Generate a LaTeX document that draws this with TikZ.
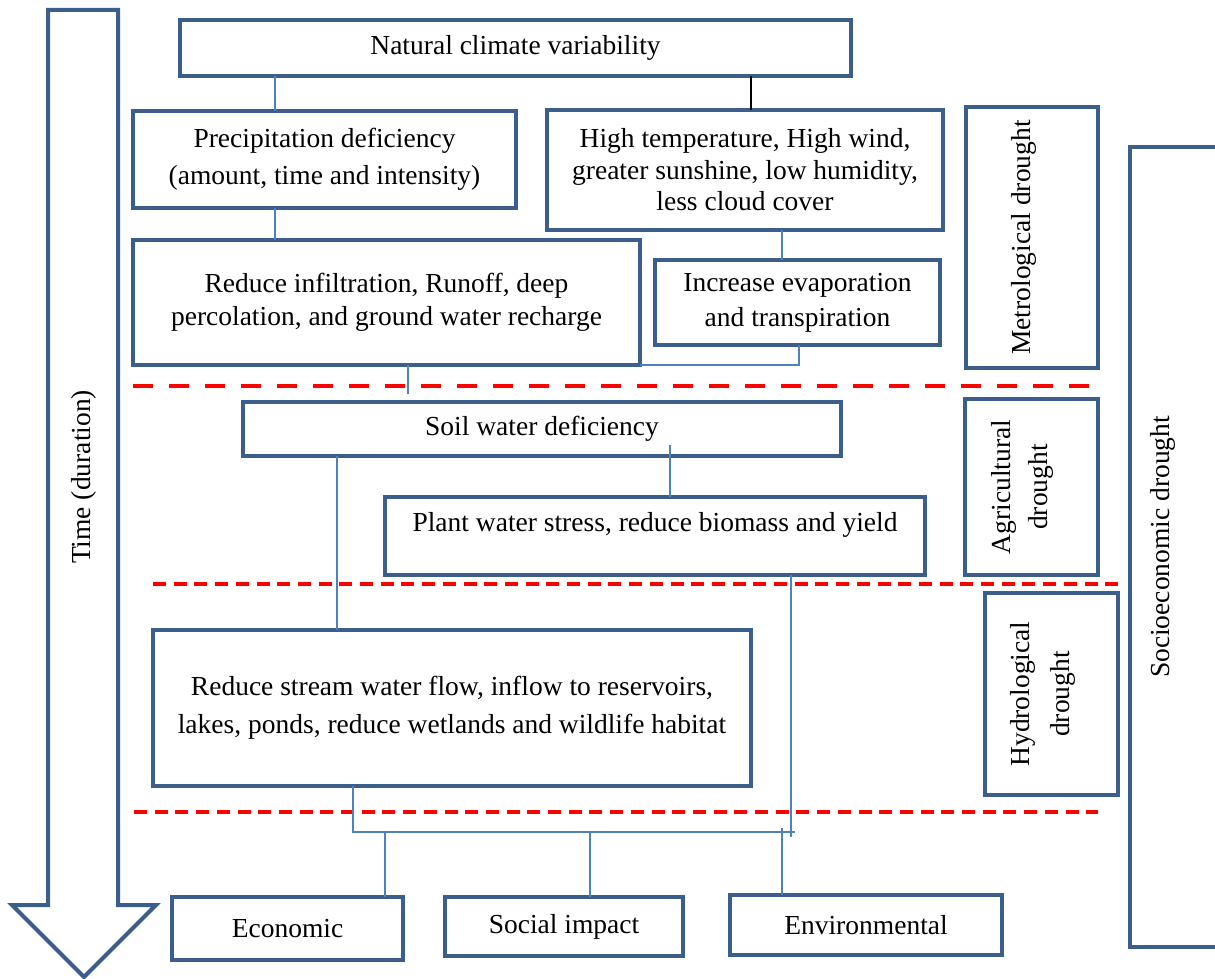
\documentclass[tikz,border=0pt]{standalone}
\usepackage{fontspec}
\setmainfont{Liberation Serif}
\definecolor{bdr}{RGB}{59,94,140}
\definecolor{cn}{RGB}{79,129,189}
\definecolor{rd}{RGB}{255,0,0}
\newcommand{\myfs}[1]{\fontsize{27.5}{#1}\selectfont}
\begin{document}
\begin{tikzpicture}[x=1pt,y=-1pt,
  box/.style={draw=bdr, line width=4pt, inner sep=0pt, outer sep=0pt, align=center, font=\myfs{35}},
  lbl/.style={inner sep=0pt, outer sep=0pt, align=center, font=\myfs{38}},
  conn/.style={draw=cn, line width=1.8pt},
  dashA/.style={draw=rd, line width=4.5pt, dash pattern=on 20pt off 16pt},
  dashB/.style={draw=rd, line width=4.5pt, dash pattern=on 13pt off 7.7pt}]
\useasboundingbox (0,0) rectangle (1215,979);

% time arrow
\draw[bdr, line width=4pt, line join=miter] (48,10) -- (118,10) -- (118,905) -- (156,905) -- (84,977) -- (12,905) -- (48,905) -- cycle;
\node[lbl, rotate=90] (time) at (84,477) {Time (duration)};

% main boxes
\node[box, minimum width=671pt, minimum height=56pt] (nat) at (515.5,48) {Natural climate variability};
\node[box, minimum width=383pt, minimum height=97pt, font=\myfs{37}] (pre) at (324.5,159.5) {Precipitation deficiency\\(amount, time and intensity)};
\node[box, minimum width=396pt, minimum height=120pt, font=\myfs{31.5}] (hi) at (745,170) {High temperature, High wind,\\greater sunshine, low humidity,\\less cloud cover};
\node[box, minimum width=507pt, minimum height=125pt, font=\myfs{33}] (inf) at (386.5,302.5) {Reduce infiltration, Runoff, deep\\percolation, and ground water recharge};
\node[box, minimum width=285pt, minimum height=85pt, font=\myfs{35}] (eva) at (797.5,302.5) {Increase evaporation\\and transpiration};
\node[box, minimum width=598pt, minimum height=54pt] (soil) at (542,429) {Soil water deficiency};
\node[box, minimum width=540pt, minimum height=78pt, text height=19pt, text depth=28pt] (plant) at (655,536) {Plant water stress, reduce biomass and yield};
\node[box, minimum width=598pt, minimum height=156pt, font=\myfs{38}] (str) at (452,708) {Reduce stream water flow, inflow to reservoirs,\\lakes, ponds, reduce wetlands and wildlife habitat};
\node[box, minimum width=231pt, minimum height=63pt] (eco) at (287.5,928.5) {Economic};
\node[box, minimum width=238pt, minimum height=59pt] (soc) at (564,926.5) {Social impact};
\node[box, minimum width=272pt, minimum height=60pt] (env) at (866,925) {Environmental};

% drought type boxes
\node[box, minimum width=132pt, minimum height=261pt] (metb) at (1032,237.5) {};
\node[lbl, rotate=90] (mett) at (1023.5,237.5) {Metrological drought};
\node[box, minimum width=133pt, minimum height=176pt] (agrb) at (1031.5,487) {};
\node[lbl, rotate=90, font=\myfs{37}] (agrt) at (1022,487) {Agricultural\\drought};
\node[box, minimum width=133pt, minimum height=202pt] (hydb) at (1051.5,694) {};
\node[lbl, rotate=90, font=\myfs{40}] (hydt) at (1042.5,694) {Hydrological\\drought};
\node[box, minimum width=90pt, minimum height=800pt] (sob) at (1175,547) {};
\node[lbl, rotate=90] (sot) at (1163,547) {Socioeconomic drought};

% dashed separators
\draw[dashA] (133,386) -- (1097,386);
\draw[dashB] (153,584) -- (1118,584);
\draw[dashB] (134,812) -- (1098,812);

% helper coordinates
\coordinate (x275) at (275,0);
\coordinate (x751) at (751,0);
\coordinate (x782) at (782,0);
\coordinate (j1) at (799,365);
\coordinate (e1) at (408,394);
\coordinate (s1) at (670,445);
\coordinate (x337) at (337,0);
\coordinate (p1) at (791,837);
\coordinate (b1) at (353,832);
\coordinate (b2) at (795,832);
\coordinate (k1) at (385,832);
\coordinate (k2) at (590,832);
\coordinate (k3) at (782,828);

% connectors
\draw[conn] (nat.south -| x275) -- (pre.north -| x275);
\draw[black, line width=1.8pt] (nat.south -| x751) -- (hi.north -| x751);
\draw[conn] (pre.south -| x275) -- (inf.north -| x275);
\draw[conn] (hi.south -| x782) -- (eva.north -| x782);
\draw[conn] (eva.south -| j1) -- (j1) -- (inf.south east);
\draw[conn] (inf.south -| e1) -- (e1);
\draw[conn] (s1) -- (plant.north -| s1);
\draw[conn] (soil.south -| x337) -- (str.north -| x337);
\draw[conn] (plant.south -| p1) -- (p1);
\draw[conn] (str.south -| b1) -- (b1) -- (b2);
\draw[conn] (k1) -- (eco.north -| k1);
\draw[conn] (k2) -- (soc.north -| k2);
\draw[conn] (k3) -- (env.north -| k3);
\end{tikzpicture}
\end{document}
